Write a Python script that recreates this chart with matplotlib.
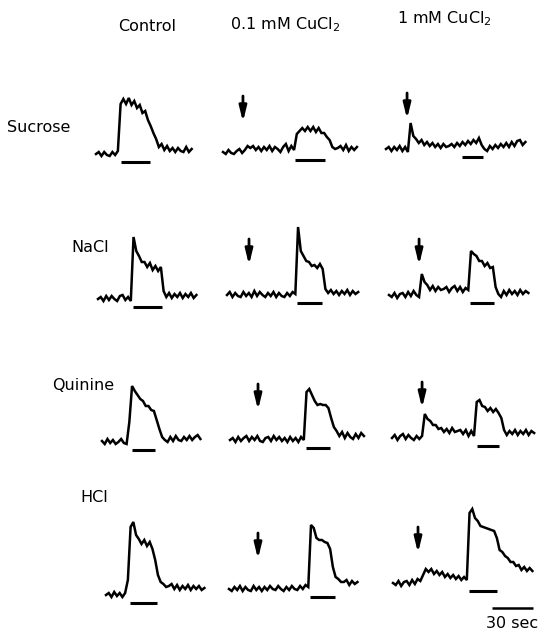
import matplotlib
matplotlib.use('Agg')
import matplotlib.pyplot as plt

plt.rcParams['font.family'] = ['DejaVu Sans']

# ---------------- data ----------------
stimuli = ['Sucrose', 'NaCl', 'Quinine', 'HCl']
conditions = ['Control', '0.1 mM CuCl$_2$', '1 mM CuCl$_2$']
DT = 2.0  # seconds between samples

# integrated chorda-tympani responses (arbitrary units), one sample per DT s
sucrose_control = [0,2,-2,2,-1,-2,2,-1,3,50,55,50,56,49,53,46,49,41,43,34,28,21,15,7,10,4,8,3,6,2,6,3,2,7,2,5]
sucrose_cu01 = [0,-2,2,-1,-2,1,3,-1,2,6,4,6,2,5,1,5,2,6,1,5,3,0,5,8,1,6,2,18,21,24,21,25,21,25,20,24,19,19,15,12,5,3,4,6,2,7,1,5,2,5]
sucrose_cu1 = [0,2,-2,2,-1,3,-2,2,-3,26,13,10,6,9,4,7,3,6,2,5,1,5,2,3,5,2,6,3,7,4,8,5,9,6,11,4,0,-2,3,0,4,1,5,2,6,2,7,3,8,9,4,7]

nacl_control = [0,2,-2,3,-1,3,0,-2,3,4,-1,2,-2,62,48,43,37,37,32,36,29,33,28,32,8,2,6,1,5,2,6,1,5,2,6,1,4]
nacl_cu01 = [0,3,-2,2,-1,-2,3,-1,2,-2,4,-1,3,0,-2,2,-1,3,-2,2,-1,-2,2,-1,3,1,68,44,39,34,33,29,30,27,31,26,6,2,5,1,4,0,4,1,5,0,4,1,3]
nacl_cu1 = [0,-2,2,-3,1,2,-2,3,-1,4,0,-2,21,13,10,5,9,4,8,5,6,8,3,7,9,4,8,3,7,5,44,41,39,34,34,29,32,27,28,8,1,-2,4,0,5,1,4,0,5,1,4,2]

quinine_control = [1,-2,3,-1,2,-2,0,3,-1,-2,20,56,51,47,43,41,36,36,32,31,22,13,5,2,0,5,1,6,2,1,5,2,6,2,5,7,3]
quinine_cu01 = [0,2,-2,3,-1,2,4,-1,3,0,4,-1,-2,2,3,-1,4,0,3,-1,2,-2,3,-1,2,-2,3,0,48,51,45,39,35,36,35,35,32,22,13,9,4,8,2,7,3,1,6,2,7,4]
quinine_cu1 = [0,3,-2,2,4,-1,3,0,-2,2,-1,2,24,19,17,13,13,9,10,6,9,5,10,6,7,8,4,8,2,7,2,36,38,32,31,27,30,26,29,25,20,8,3,7,4,8,3,7,4,8,3,7,5]

hcl_control = [0,2,-2,3,-1,2,-2,2,15,68,73,60,56,51,55,49,53,46,35,20,13,11,8,9,11,6,10,5,9,6,10,5,9,6,9,5,7]
hcl_cu01 = [0,-2,2,-1,3,-2,2,-1,-2,3,-1,2,-2,2,-1,3,0,-1,3,0,-2,2,-1,3,0,-1,3,0,4,2,64,61,51,49,49,47,46,40,22,12,10,7,7,9,4,8,5,7]
hcl_cu1 = [0,-2,2,-3,1,2,-2,3,-1,4,2,8,14,11,14,9,12,8,11,6,9,5,8,4,7,3,6,3,70,74,65,62,57,56,55,54,53,52,45,33,31,27,25,21,21,17,18,13,16,12,15,12]

traces = [[sucrose_control, sucrose_cu01, sucrose_cu1],
          [nacl_control, nacl_cu01, nacl_cu1],
          [quinine_control, quinine_cu01, quinine_cu1],
          [hcl_control, hcl_cu01, hcl_cu1]]

# stimulus on/off (s) and CuCl2 application time (s)
stim_on = [[18.3, 52.7, 55.6], [25.6, 51.2, 59.3], [22.0, 55.6, 62.2], [17.6, 59.3, 55.6]]
stim_off = [[39.5, 74.6, 71.0], [46.8, 69.5, 76.8], [38.8, 73.2, 78.3], [37.3, 77.6, 76.1]]
cu_time = [[None, 14.6, 15.4], [None, 16.1, 22.0], [None, 20.5, 22.0], [None, 21.2, 18.3]]
scale_bar_s = 30
scale_bar_start = 72.4

# ---------------- layout (pixels) ----------------
W, H = 544, 636
PX_PER_S = 41 / 30.0
panel_x0 = [[96, 223, 386], [98, 227, 389], [102, 230, 392], [106, 229, 393]]
panel_base = [[154, 152, 149], [299, 295, 295], [442, 440, 438], [595, 589, 583]]
AX_W = 160
Y_LO, Y_HI = -45, 80

fig = plt.figure(figsize=(W / 100, H / 100), dpi=100)
fig.patch.set_facecolor('white')

last_ax = None
for r in range(4):
    for c in range(3):
        x0 = panel_x0[r][c]
        yb = panel_base[r][c]
        ax = fig.add_axes([x0 / W, (H - yb + Y_LO) / H, AX_W / W, (Y_HI - Y_LO) / H])
        ax.set_xlim(0, AX_W / PX_PER_S)
        ax.set_ylim(Y_LO, Y_HI)
        ax.axis('off')
        ax.set_facecolor('none')
        vals = traces[r][c]
        t = [i * DT for i in range(len(vals))]
        ax.plot(t, vals, color='black', lw=1.8, solid_joinstyle='miter', clip_on=False)
        ax.plot([stim_on[r][c], stim_off[r][c]], [-8, -8], color='black', lw=2.2,
                solid_capstyle='butt', clip_on=False)
        if cu_time[r][c] is not None:
            ax.annotate('', xy=(cu_time[r][c], 30), xytext=(cu_time[r][c], 56),
                        arrowprops=dict(arrowstyle='-|>,head_width=0.22,head_length=0.9',
                                        lw=2.0, color='black', shrinkA=0, shrinkB=0,
                                        mutation_scale=10))
        last_ax = ax

# 30 s scale bar
last_ax.plot([scale_bar_start, scale_bar_start + scale_bar_s], [-25, -25], color='black',
             lw=1.8, solid_capstyle='butt', clip_on=False)
last_ax.text(scale_bar_start + scale_bar_s / 2, -33, '30 sec', ha='center', va='top',
             fontsize=11.5)

# column headers
head_x = [147, 285, 444]
head_y = [31, 29, 23]
for name, x, y in zip(conditions, head_x, head_y):
    fig.text(x / W, 1 - y / H, name, ha='center', va='baseline', fontsize=11.5)

# row labels
lab_x = [7, 71, 52, 80]
lab_y = [128, 248, 385, 497]
for name, x, y in zip(stimuli, lab_x, lab_y):
    fig.text(x / W, 1 - y / H, name, ha='left', va='center', fontsize=11.5)

fig.savefig('out.png', dpi=100, facecolor='white')
